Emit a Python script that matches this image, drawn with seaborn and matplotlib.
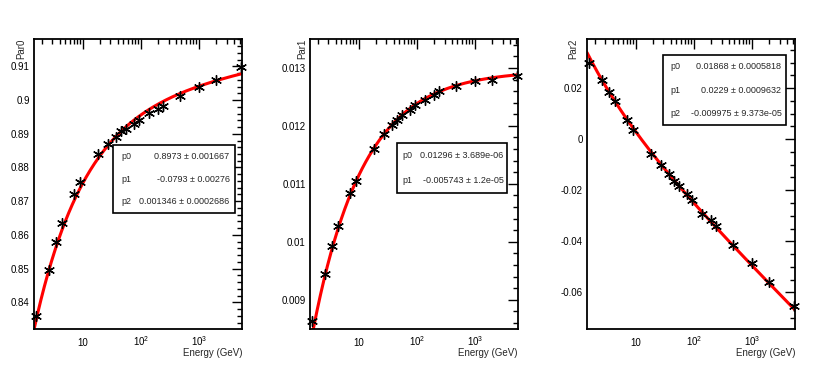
import numpy as np
import pandas as pd
import seaborn as sns
import matplotlib.pyplot as plt
from matplotlib.patches import Rectangle
from matplotlib.ticker import AutoMinorLocator, FixedLocator, LogLocator, NullFormatter

# energy points (GeV)
energy = [1.6, 2.6, 3.5, 4.4, 7.1, 9.0, 18, 27, 37, 46, 56, 75, 94,
          140, 195, 240, 480, 1000, 2000, 5200]

par0 = [0.8359, 0.8496, 0.8578, 0.8635, 0.8722, 0.8757, 0.8841, 0.8870,
        0.8890, 0.8907, 0.8915, 0.8930, 0.8942, 0.8961, 0.8974, 0.8983,
        0.9011, 0.9039, 0.9060, 0.9098]
par1 = [0.008632, 0.009437, 0.009925, 0.010270, 0.010845, 0.011046,
        0.011609, 0.011868, 0.012011, 0.012109, 0.012184, 0.012282,
        0.012368, 0.012443, 0.012540, 0.012598, 0.012695, 0.012770,
        0.012787, 0.012856]
par2 = [0.0299, 0.0231, 0.0184, 0.0148, 0.0076, 0.0037, -0.0059, -0.0101,
        -0.0136, -0.0163, -0.0182, -0.0215, -0.0239, -0.0295, -0.0317,
        -0.0340, -0.0416, -0.0485, -0.0560, -0.0652]

# fit parameters shown in the stat boxes: p0 + p1/sqrt(E) + p2*ln(E)
fit0 = [0.8973, -0.0793, 0.001346]
fit1 = [0.01296, -0.005743, 0.0]
fit2 = [0.01868, 0.0229, -0.009975]
box0 = [('p0', '0.8973 ± 0.001667'), ('p1', '-0.0793 ± 0.00276'),
        ('p2', '0.001346 ± 0.0002686')]
box1 = [('p0', '0.01296 ± 3.689e-06'), ('p1', '-0.005743 ± 1.2e-05')]
box2 = [('p0', '0.01868 ± 0.0005818'), ('p1', '0.0229 ± 0.0009632'),
        ('p2', '-0.009975 ± 9.373e-05')]

ylabels = ['Par0', 'Par1', 'Par2']
ylims = [(0.8321, 0.9181), (0.008494, 0.0135), (-0.0744, 0.0393)]
yticks = [[0.84, 0.85, 0.86, 0.87, 0.88, 0.89, 0.90, 0.91],
          [0.009, 0.010, 0.011, 0.012, 0.013],
          [-0.06, -0.04, -0.02, 0.0, 0.02]]
yticklabels = [['0.84', '0.85', '0.86', '0.87', '0.88', '0.89', '0.9', '0.91'],
               ['0.009', '0.01', '0.011', '0.012', '0.013'],
               ['-0.06', '-0.04', '-0.02', '0', '0.02']]
yminor = [5, 5, 4]
xlim = (1.45, 5500)

sns.set_style('white')
plt.rcParams['font.family'] = ['Liberation Sans', 'DejaVu Sans']
plt.rcParams['mathtext.fontset'] = 'custom'
plt.rcParams['mathtext.rm'] = 'Liberation Sans'

fig = plt.figure(figsize=(8.3, 3.69), dpi=100)
lefts = [34 / 830, 310 / 830, 587 / 830]
w, b, h = 208 / 830, 1 - 329 / 369, 290 / 369

# stat box geometry in axes fraction: x0, x1, y0, y1, label x, value x, ylabel x
boxes = [(0.382, 0.966, 0.400, 0.634, 0.42, 0.94, -0.063),
         (0.416, 0.947, 0.469, 0.641, 0.445, 0.93, -0.035),
         (0.364, 0.957, 0.703, 0.945, 0.40, 0.935, -0.068)]

series = [par0, par1, par2]
fits = [fit0, fit1, fit2]
stat = [box0, box1, box2]

for i in range(3):
    ax = fig.add_axes([lefts[i], b, w, h])
    df = pd.DataFrame({'Energy': energy, 'Par': series[i]})
    egrid = np.logspace(np.log10(xlim[0]), np.log10(xlim[1]), 300)
    p = fits[i]
    curve = p[0] + p[1] / np.sqrt(egrid) + p[2] * np.log(egrid)
    sns.lineplot(x=egrid, y=curve, ax=ax, color='#ff0000', lw=2.2, zorder=2)
    sns.scatterplot(data=df, x='Energy', y='Par', ax=ax, marker=(6, 2, 0),
                    s=50, color='black', linewidth=1.0, zorder=3, clip_on=False)
    ax.set_xscale('log')
    ax.set_xlim(xlim)
    ax.set_ylim(ylims[i])
    ax.set_xlabel('')
    ax.set_ylabel('')

    ax.xaxis.set_major_locator(FixedLocator([10, 100, 1000]))
    ax.set_xticklabels(['10', '$10^{2}$', '$10^{3}$'])
    ax.xaxis.set_minor_locator(LogLocator(base=10, subs=np.arange(2, 10)))
    ax.xaxis.set_minor_formatter(NullFormatter())
    ax.set_yticks(yticks[i])
    ax.set_yticklabels(yticklabels[i])
    ax.yaxis.set_minor_locator(AutoMinorLocator(yminor[i]))
    ax.tick_params(which='both', direction='in', top=True, right=True,
                   labelsize=7, width=1, colors='black')
    ax.tick_params(which='major', length=7)
    ax.tick_params(which='minor', length=3.5)
    ax.tick_params(axis='x', which='major', pad=12.5)
    ax.tick_params(axis='y', which='major', pad=3)
    for lab in ax.get_xticklabels():
        lab.set_verticalalignment('baseline')
    for sp in ax.spines.values():
        sp.set_linewidth(1.3)
        sp.set_color('black')

    x0, x1, y0, y1, lx, vx, ylx = boxes[i]
    ax.text(ylx, 1.0, ylabels[i], rotation=90, ha='center', va='top',
            fontsize=7, transform=ax.transAxes)
    ax.text(1.0, -0.082, 'Energy (GeV)', ha='right', va='center',
            fontsize=7, transform=ax.transAxes)

    ax.add_patch(Rectangle((x0, y0), x1 - x0, y1 - y0, transform=ax.transAxes,
                           facecolor='white', edgecolor='black', lw=1.2, zorder=5))
    n = len(stat[i])
    for j, (name, val) in enumerate(stat[i]):
        ty = y1 - (j + 0.5) * (y1 - y0) / n
        ax.text(lx, ty, name, ha='left', va='center', fontsize=6.5,
                transform=ax.transAxes, zorder=6)
        ax.text(vx, ty, val, ha='right', va='center', fontsize=6.5,
                transform=ax.transAxes, zorder=6)

fig.savefig('out.png', dpi=100)
